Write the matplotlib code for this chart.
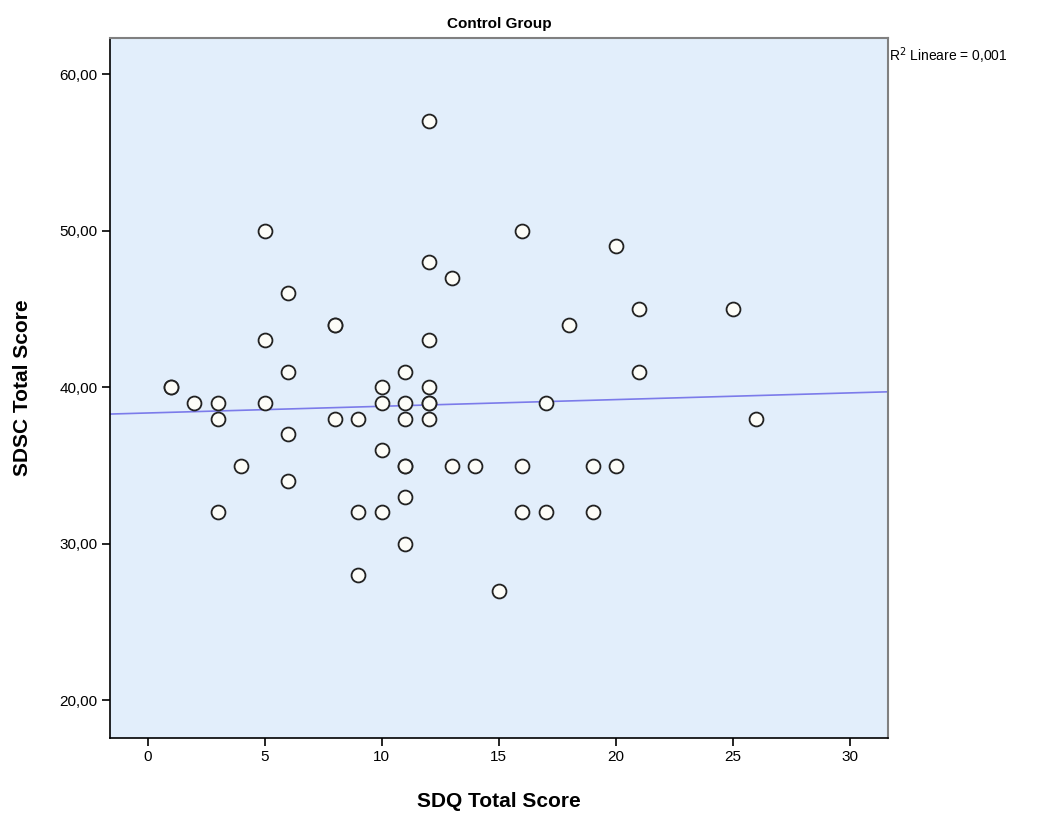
import numpy as np
import matplotlib
matplotlib.use('Agg')
import matplotlib.pyplot as plt
from matplotlib.ticker import FuncFormatter

plt.rcParams['font.family'] = ['Liberation Sans', 'DejaVu Sans']

# Dati (SDQ vs SDSC, gruppo di controllo)
sdq = [1, 1, 2, 3, 3, 3, 4, 5, 5, 5, 6, 6, 6, 6, 8, 8, 8, 9, 9, 9,
       10, 10, 10, 10, 11, 11, 11, 11, 11, 11, 11, 12, 12, 12, 12, 12, 12, 12,
       13, 13, 14, 15, 16, 16, 16, 17, 17, 18, 19, 19, 20, 20, 21, 21, 25, 26]
sdsc = [40, 40, 39, 39, 38, 32, 35, 50, 43, 39, 46, 41, 37, 34, 44, 44, 38, 38, 32, 28,
        40, 39, 36, 32, 41, 39, 38, 35, 35, 33, 30, 57, 48, 43, 40, 39, 39, 38,
        47, 35, 35, 27, 50, 35, 32, 39, 32, 44, 35, 32, 49, 35, 45, 41, 45, 38]

x_ticks = [0, 5, 10, 15, 20, 25, 30]
y_ticks = [20, 30, 40, 50, 60]
r2_label = 'R$^2$ Lineare = 0,001'

x = np.array(sdq, dtype=float)
y = np.array(sdsc, dtype=float)
slope, intercept = np.polyfit(x, y, 1)

fig = plt.figure(figsize=(10.48, 8.16), dpi=100)
ax = fig.add_axes([0.105, 0.0956, 0.742, 0.8578])
ax.set_facecolor('#e2eefb')

xlim = (-1.6, 31.6)
ax.set_xlim(xlim)
ax.set_ylim(17.6, 62.3)

xx = np.array(xlim)
ax.plot(xx, intercept + slope * xx, color='#7b7bea', lw=1.2, zorder=2)
ax.scatter(x, y, s=100, facecolor='#fdfdf8', edgecolor='#222222', linewidths=1.3, zorder=3)

ax.set_xticks(x_ticks)
ax.set_yticks(y_ticks)
ax.yaxis.set_major_formatter(FuncFormatter(lambda v, p: f'{v:.2f}'.replace('.', ',')))
ax.tick_params(direction='out', length=6, width=1.2, labelsize=11, colors='black', pad=3)

for s in ['left', 'bottom']:
    ax.spines[s].set_color('black')
    ax.spines[s].set_linewidth(1.2)
for s in ['top', 'right']:
    ax.spines[s].set_color('#808080')
    ax.spines[s].set_linewidth(1.5)

ax.set_title('Control Group', fontsize=11, fontweight='bold', pad=7)
ax.set_xlabel('SDQ Total Score', fontsize=15, fontweight='bold', labelpad=20)
ax.set_ylabel('SDSC Total Score', fontsize=15, fontweight='bold', labelpad=20)

ax.text(1.002, 0.975, r2_label, transform=ax.transAxes, fontsize=10,
        ha='left', va='center')

fig.savefig('out.png', dpi=100)
